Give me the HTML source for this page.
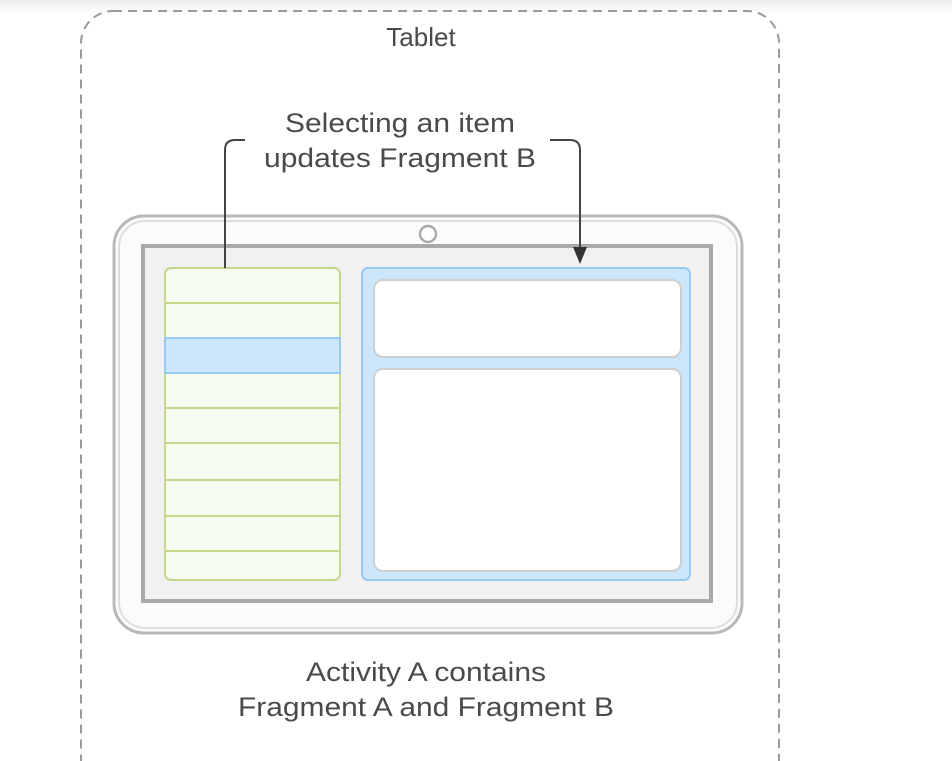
<!DOCTYPE html>
<html><head><meta charset="utf-8"><style>
html,body{margin:0;padding:0;background:#fff;}
svg{display:block;}
text{font-family:"Liberation Sans",sans-serif;fill:#4a4a4a;}
</style></head><body>
<svg width="952" height="761" viewBox="0 0 952 761" xmlns="http://www.w3.org/2000/svg">
<defs><linearGradient id="tg" x1="0" y1="0" x2="0" y2="1"><stop offset="0" stop-color="#ececec"/><stop offset="1" stop-color="#fff"/></linearGradient></defs>
<rect x="0" y="0" width="952" height="14" fill="url(#tg)"/>
<rect x="81" y="11" width="698" height="780" rx="32" fill="none" stroke="#9a9a9a" stroke-width="2" stroke-dasharray="9,6"/>
<text x="421" y="46" font-size="26" text-anchor="middle" fill="#666">Tablet</text>
<text x="400" y="132" font-size="27" text-anchor="middle" textLength="230" lengthAdjust="spacingAndGlyphs">Selecting an item</text>
<text x="400" y="167" font-size="27" text-anchor="middle" textLength="272" lengthAdjust="spacingAndGlyphs">updates Fragment B</text>
<!-- tablet body -->
<rect x="114" y="216" width="628" height="417" rx="30" fill="#fbfbfb" stroke="#b8b8b8" stroke-width="3"/>
<rect x="119" y="221" width="618" height="407" rx="26" fill="none" stroke="#dedede" stroke-width="2"/>
<circle cx="428" cy="234" r="8" fill="#fff" stroke="#aaa" stroke-width="2.5"/>
<rect x="143" y="246" width="568" height="355" fill="#f1f1f1" stroke="#a9a9a9" stroke-width="4"/>
<!-- list fragment A -->
<rect x="165" y="268" width="175" height="312" rx="6" fill="#f4fbef" stroke="#c6d68c" stroke-width="2"/>
<rect x="165" y="338" width="175" height="35" fill="#cce6fb" stroke="#9ac8f5" stroke-width="2"/>
<g stroke="#c6d68c" stroke-width="2">
<line x1="165" y1="303" x2="340" y2="303"/>
<line x1="165" y1="408" x2="340" y2="408"/>
<line x1="165" y1="443" x2="340" y2="443"/>
<line x1="165" y1="480" x2="340" y2="480"/>
<line x1="165" y1="516" x2="340" y2="516"/>
<line x1="165" y1="551" x2="340" y2="551"/>
</g>
<!-- fragment B -->
<rect x="362" y="268" width="328" height="312" rx="6" fill="#cce6fb" stroke="#9ac8f5" stroke-width="2"/>
<rect x="374" y="280" width="307" height="77" rx="9" fill="#fff" stroke="#cfcfcf" stroke-width="2"/>
<rect x="374" y="369" width="307" height="202" rx="9" fill="#fff" stroke="#cfcfcf" stroke-width="2"/>
<!-- connector -->
<path d="M225 268 V150 Q225 140 235 140 H245" fill="none" stroke="#444" stroke-width="2"/>
<path d="M550 140 H570 Q580 140 580 150 V250" fill="none" stroke="#444" stroke-width="2"/>
<polygon points="573,247 587,247 580,264" fill="#333"/>
<text x="426" y="681" font-size="27" text-anchor="middle" textLength="240" lengthAdjust="spacingAndGlyphs">Activity A contains</text>
<text x="426" y="716" font-size="27" text-anchor="middle" textLength="376" lengthAdjust="spacingAndGlyphs">Fragment A and Fragment B</text>
</svg>
</body></html>
